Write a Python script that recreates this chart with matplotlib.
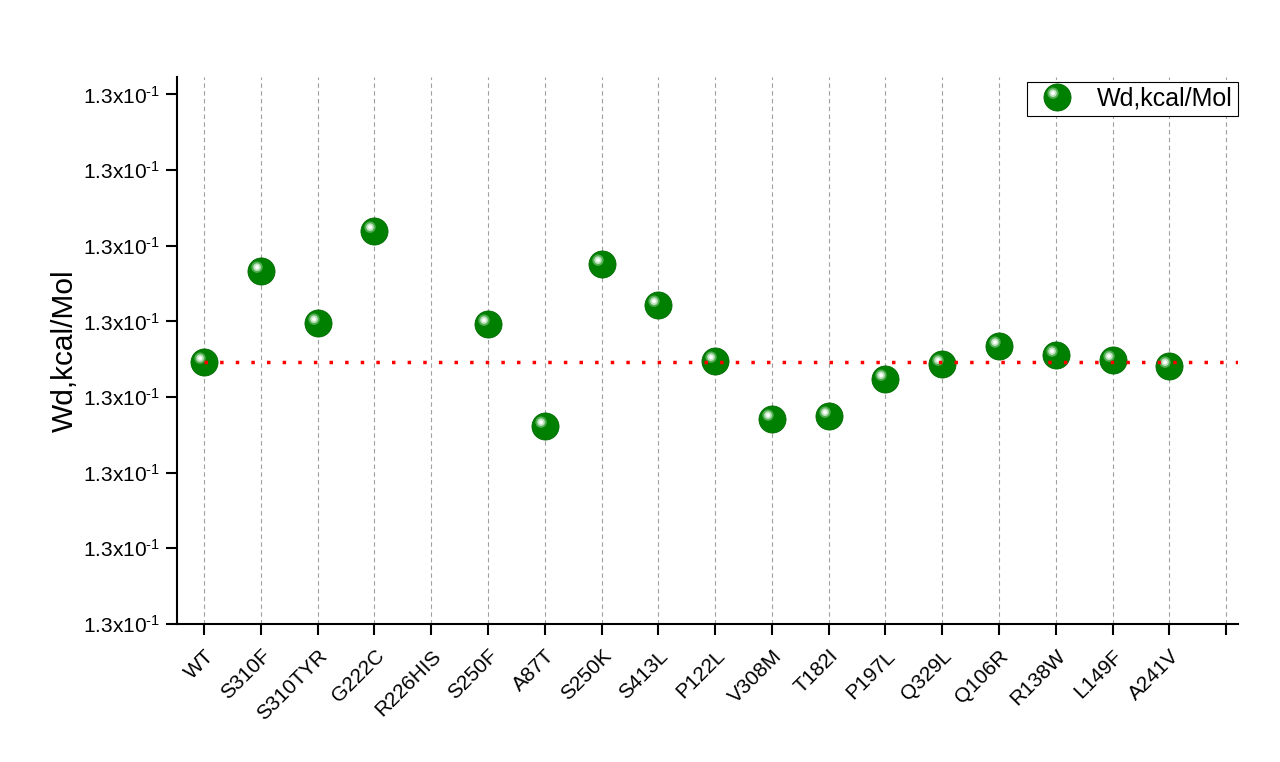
import numpy as np
import matplotlib
matplotlib.use('Agg')
import matplotlib.pyplot as plt
from matplotlib.path import Path
from matplotlib.legend_handler import HandlerTuple

plt.rcParams['font.family'] = ['Liberation Sans', 'DejaVu Sans']
plt.rcParams['mathtext.fontset'] = 'custom'
plt.rcParams['mathtext.rm'] = 'Liberation Sans'
plt.rcParams['mathtext.it'] = 'Liberation Sans:italic'
plt.rcParams['mathtext.bf'] = 'Liberation Sans:bold'

# Data (all values round to 1.3x10^-1)
mutations = ['WT', 'S310F', 'S310TYR', 'G222C', 'R226HIS', 'S250F', 'A87T',
             'S250K', 'S413L', 'P122L', 'V308M', 'T182I', 'P197L', 'Q329L',
             'Q106R', 'R138W', 'L149F', 'A241V']
wd_values = [0.1300346, 0.1300466, 0.1300398, 0.1300519, np.nan, 0.1300396,
             0.1300262, 0.1300476, 0.1300421, 0.1300347, 0.1300271, 0.1300275,
             0.1300324, 0.1300344, 0.1300367, 0.1300355, 0.1300349, 0.1300341]
y_ticks = [0.13000, 0.13001, 0.13002, 0.13003, 0.13004, 0.13005, 0.13006, 0.13007]
y_tick_labels = ['1.3x10$^{\\text{-1}}$'] * len(y_ticks)
series_name = 'Wd,kcal/Mol'

MS = 19.5


def offset_circle(cx, cy, r):
    """Circle marker shifted off-centre; the lone MOVETO pins the scaling."""
    circ = Path.unit_circle()
    verts = np.vstack([circ.vertices * r + [cx, cy], [[1.0, 0.0]]])
    codes = np.concatenate([circ.codes, [Path.MOVETO]])
    return Path(verts, codes)


HALO = offset_circle(-0.33, 0.32, 0.42)
SHINE = offset_circle(-0.33, 0.32, 0.28)
SPOT = offset_circle(-0.33, 0.32, 0.14)


def sphere(ax, x, y, zorder=3):
    base = ax.plot(x, y, 'o', ls='none', ms=MS, color='#008000',
                   mec='#006a00', mew=0.6, zorder=zorder)[0]
    halo = ax.plot(x, y, ls='none', marker=HALO, ms=MS, color='#5cb45c',
                   mew=0, alpha=0.9, zorder=zorder + 0.1)[0]
    shine = ax.plot(x, y, ls='none', marker=SHINE, ms=MS, color='#c2e4c2',
                    mew=0, zorder=zorder + 0.2)[0]
    spot = ax.plot(x, y, ls='none', marker=SPOT, ms=MS, color='white',
                   mew=0, zorder=zorder + 0.3)[0]
    return base, halo, shine, spot


fig = plt.figure(figsize=(12.8, 7.62), dpi=100)
ax = fig.add_axes([0.1383, 0.1811, 0.8289, 0.7179])

x = np.arange(len(mutations))
handles = sphere(ax, x, wd_values)

x_right = 18.21
ax.set_xlim(-0.476, x_right)
ax.set_ylim(y_ticks[0], 0.1300723)

# reference line at the WT value
ax.hlines(wd_values[0], x[0], x_right, colors='red', linestyles=(0, (1.0, 3.5)),
          lw=2.5, zorder=5)

ax.set_xticks(np.arange(len(mutations) + 1))
ax.set_xticklabels(mutations + [''], rotation=45, ha='right', va='top',
                   rotation_mode='anchor')
ax.set_yticks(y_ticks)
ax.set_yticklabels(y_tick_labels)

ax.xaxis.grid(True, linestyle=(0, (4, 3)), color='#a0a0a0', lw=0.8, zorder=0)
ax.set_axisbelow(True)

for side in ['top', 'right']:
    ax.spines[side].set_visible(False)
for side in ['left', 'bottom']:
    ax.spines[side].set_linewidth(1.5)

ax.tick_params(direction='out', length=8, width=1.5, labelsize=15)
ax.tick_params(axis='x', pad=8)
ax.tick_params(axis='y', pad=4)

ax.set_ylabel(series_name, fontsize=21.5, labelpad=3)

leg = ax.legend([tuple(handles)], [series_name],
                handler_map={tuple: HandlerTuple(ndivide=1, pad=0)},
                loc='upper right', bbox_to_anchor=(1.0, 0.991), borderaxespad=0,
                fontsize=18, frameon=True, fancybox=False, edgecolor='black',
                framealpha=1, borderpad=0.2, handlelength=2.0, handletextpad=0.6)
leg.get_frame().set_linewidth(0.8)

fig.savefig('out.png', dpi=100)
